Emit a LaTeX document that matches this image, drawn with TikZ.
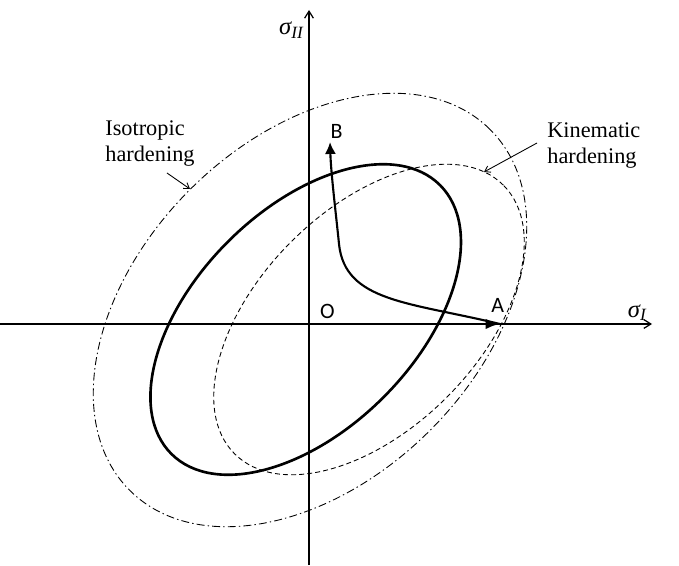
\documentclass[tikz,border=0pt]{standalone}
\usepackage{fontspec}
\setmainfont{Liberation Serif}
\newfontfamily\ptfont{Carlito}
\usetikzlibrary{arrows.meta}

\begin{document}
\begin{tikzpicture}[x=0.02cm, y=0.02cm,
  axisLine/.style={line width=0.7pt, -{Straight Barb[length=4pt,width=5pt]}},
  isoLine/.style={line width=0.5pt, dash pattern=on 4.5pt off 1.8pt on 0.8pt off 1.8pt},
  kinLine/.style={line width=0.5pt, dash pattern=on 2.8pt off 1.8pt},
  yieldLine/.style={line width=1.5pt},
  loadArrow/.style={line width=1.6pt, -{Latex[length=8.2pt,width=6pt]}},
  pathArrow/.style={line width=1.2pt, -{Latex[length=6.8pt,width=6.3pt]}},
  pointLbl/.style={font=\ptfont\fontsize{12.5}{14}\selectfont, inner sep=0pt},
  axisLbl/.style={font=\fontsize{14}{16}\selectfont, inner sep=0pt, anchor=base east},
  noteLbl/.style={font=\fontsize{12.7}{15.2}\selectfont, align=left, inner sep=0pt, anchor=north west},
  noteArrow/.style={line width=0.5pt, -{Straight Barb[length=3pt,width=4pt]}}
]

% --- FRAME (sketch pixels, origin at O) ---
\def\xL{-309}
\def\xR{370}
\def\yB{-241}
\def\yT{324}
\useasboundingbox (\xL,\yB) rectangle (\xR,\yT);

% --- AXES ---
\coordinate (ptO) at (0,0);
\coordinate (axXs) at (\xL,0);
\coordinate (axXe) at (343,0);
\coordinate (axYs) at (0,\yB);
\coordinate (axYe) at (0,314);
\draw[axisLine] (axXs) -- (axXe);
\draw[axisLine] (axYs) -- (axYe);
\node[axisLbl] (lblSx) at (338,7) {\textit{σ\textsubscript{I}}};
\node[axisLbl] (lblSy) at (-5,289) {\textit{σ\textsubscript{II}}};

% --- YIELD SURFACES ---
\coordinate (isoC) at (1,14);
\coordinate (iniC) at (-3.3,4.5);
\coordinate (kinC) at (60,4.5);
\draw[isoLine, rotate around={45:(isoC)}]
  (isoC) ellipse [x radius=255, y radius=170];
\draw[kinLine, rotate around={45:(kinC)}]
  (kinC) ellipse [x radius=190, y radius=110];
\draw[yieldLine, rotate around={45:(iniC)}]
  (iniC) ellipse [x radius=190, y radius=110];

% --- LOADING PATH O -> A -> B ---
\coordinate (ptA) at (191,0);
\coordinate (ptK) at (30,80);
\coordinate (ptB) at (21,182);
\draw[loadArrow] (ptO) -- (ptA);
\draw[pathArrow]
  (ptA) .. controls (100,22) and (36,22) .. (ptK)
  .. controls (27,110) and (22,150) .. (ptB);
\node[pointLbl] (lblO) at (18.3,13) {O};
\node[pointLbl] (lblA) at (188.8,18.5) {A};
\node[pointLbl] (lblB) at (27.7,193) {B};

% --- NOTES ---
\node[noteLbl] (isoLbl) at (-204,204) {Isotropic\\hardening};
\coordinate (isoTail) at (-142,151);
\coordinate (isoTip) at (-119,135);
\draw[noteArrow] (isoTail) -- (isoTip);

\node[noteLbl] (kinLbl) at (238,202) {Kinematic\\hardening};
\coordinate (kinTail) at (228,181);
\coordinate (kinTip) at (175,152);
\draw[noteArrow] (kinTail) -- (kinTip);

\end{tikzpicture}
\end{document}
